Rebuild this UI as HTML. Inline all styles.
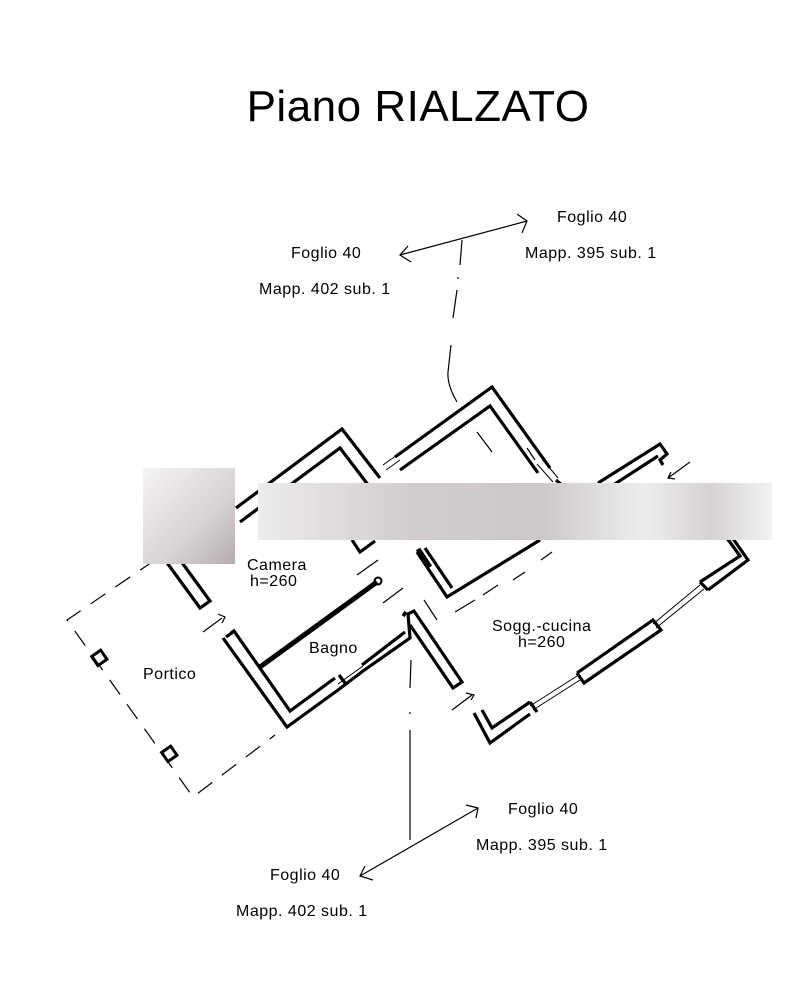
<!DOCTYPE html>
<html><head><meta charset="utf-8"><style>
html,body{margin:0;padding:0;background:#fff;}
svg{display:block}
text{font-family:"Liberation Sans",Arial,sans-serif;fill:#000}
</style></head><body>
<svg width="808" height="982" viewBox="0 0 808 982" xmlns="http://www.w3.org/2000/svg">
<defs>
<linearGradient id="g1" x1="0" x2="1" y1="0" y2="1"><stop offset="0" stop-color="#f6f4f4"/><stop offset="0.6" stop-color="#d8d3d3"/><stop offset="1" stop-color="#b5adad"/></linearGradient>
<linearGradient id="g2" x1="0" x2="1"><stop offset="0" stop-color="#eceaea"/><stop offset="0.3" stop-color="#d2cdcd"/><stop offset="0.55" stop-color="#cdc8c8"/><stop offset="0.75" stop-color="#eeeded"/><stop offset="0.88" stop-color="#d6d2d2"/><stop offset="1" stop-color="#f4f2f2"/></linearGradient>
</defs>
<text x="418" y="121" font-size="44" text-anchor="middle" letter-spacing="0.5">Piano RIALZATO</text>

<g font-size="16" letter-spacing="0.5">
<text x="557" y="222">Foglio 40</text>
<text x="525" y="258">Mapp. 395 sub. 1</text>
<text x="291" y="258">Foglio 40</text>
<text x="259" y="294">Mapp. 402 sub. 1</text>
<text x="508" y="814">Foglio 40</text>
<text x="476" y="850">Mapp. 395 sub. 1</text>
<text x="270" y="880">Foglio 40</text>
<text x="236" y="916">Mapp. 402 sub. 1</text>
<text x="247" y="570">Camera</text>
<text x="250" y="586">h=260</text>
<text x="309" y="653">Bagno</text>
<text x="143" y="679">Portico</text>
<text x="492" y="631">Sogg.-cucina</text>
<text x="518" y="647">h=260</text>
</g>

<g fill="none" stroke="#000" stroke-width="1.2">
<line x1="400" y1="255" x2="527" y2="221"/>
<polyline points="408,246 400,255 411,262"/>
<polyline points="517,214 527,221 522,233"/>
<path d="M462,240 L460,265 M459,278 L457,278 M457,290 L453,318 M451,345 L448,372 Q447,385 457,402" />
<line x1="360" y1="876" x2="478" y2="808"/>
<polyline points="365,866 360,876 373,880"/>
<polyline points="466,805 478,808 476,818"/>
<path d="M410,840 L410,730 M410,714 L410,712 M410,688 L411,660"/>
<path d="M155,560 L67,620 L193,797 L275,735" stroke-dasharray="18,12"/>
<path d="M203,632 L222,618 M218,614 L225,617 L222,623"/>
<path d="M452,710 L472,695 M466,693 L474,695 L471,700"/>
<path d="M668,478 L690,462 M671,472 L668,478 L675,479"/>
<path d="M357,575 L378,560 M380,522 L400,508 M383,603 L403,588"/>
<path d="M424,600 L437,620 M483,595 L498,585 M513,580 L525,572 M455,612 L475,600 M541,560 L552,552"/>
<path d="M477,432 L492,452 M527,448 L535,460"/>
</g>

<rect x="94" y="652" width="11" height="11" fill="none" stroke="#000" stroke-width="3" transform="rotate(-35 100 658)"/>
<rect x="164" y="748" width="11" height="11" fill="none" stroke="#000" stroke-width="3" transform="rotate(-35 170 754)"/>

<g fill="none" stroke="#000" stroke-width="3.2" stroke-linejoin="miter">
<polyline points="236,508 342,429 380,478"/>
<polyline points="240,522 340,448 372,490"/>
<polyline points="352,540 360,552 375,541"/>
<polyline points="165,560 200,608 210,601 175,553"/>
<polyline points="223,638 287,727 338,690 363,671 410,638 408,614 414,611 462,682 453,688 410,625"/>
<polyline points="231,633 234,631 290,711 335,678"/>
<polyline points="345,683 339,675"/>
<polyline points="362,665 405,632"/>
<polyline points="233,632 226,637"/>
<polyline points="395,457 492,387 550,468"/>
<polyline points="400,470 490,406 538,473"/>
<polyline points="556,480 563,486 555,492"/>
<polyline points="417,552 447,597 540,540"/>
<polyline points="425,548 452,588"/>
<polyline points="474,713 490,743 530,714"/>
<polyline points="482,710 492,728 530,702"/>
<polyline points="530,702 537,712"/>
<polyline points="577,673 653,620 661,630 584,683 577,673"/>
<polyline points="700,582 740,556 708,512"/>
<polyline points="708,590 748,560 715,513"/>
<polyline points="700,582 708,590"/>
<polyline points="598,483 660,444 667,454 660,460 663,465"/>
<polyline points="604,491 658,456"/>
</g>
<line x1="260" y1="667" x2="377" y2="582" stroke="#000" stroke-width="5"/>
<circle cx="378" cy="581" r="3.5" fill="none" stroke="#000" stroke-width="2"/>
<line x1="403" y1="613" x2="406" y2="615" stroke="#000" stroke-width="5"/>
<line x1="418" y1="549" x2="430" y2="567" stroke="#000" stroke-width="5"/>
<g stroke="#000" stroke-width="1">
<line x1="338" y1="684" x2="363" y2="666"/><line x1="341" y1="688" x2="366" y2="670"/>
<line x1="530" y1="706" x2="577" y2="676"/><line x1="533" y1="710" x2="580" y2="680"/>
<line x1="653" y1="624" x2="700" y2="585"/><line x1="656" y1="628" x2="704" y2="589"/>
<line x1="383" y1="465" x2="397" y2="455"/><line x1="386" y1="470" x2="400" y2="460"/>
<line x1="537" y1="464" x2="553" y2="482"/><line x1="543" y1="460" x2="558" y2="478"/>
</g>

<rect x="143" y="468" width="92" height="96" fill="url(#g1)"/>
<rect x="258" y="483" width="514" height="57" fill="url(#g2)"/>
</svg>
</body></html>
